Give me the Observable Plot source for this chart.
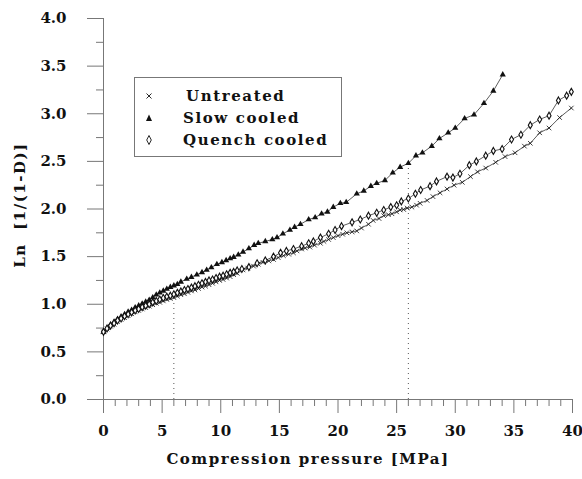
<!DOCTYPE html>
<html>
<head>
<meta charset="utf-8">
<script src="https://cdn.jsdelivr.net/npm/d3@7"></script>
<script src="https://cdn.jsdelivr.net/npm/@observablehq/plot@0.6"></script>
<style>
  html, body { margin: 0; padding: 0; background: #fff; }
  #wrap { position: relative; width: 582px; height: 479px; }
  #wrap svg text { font-family: "DejaVu Serif", serif; font-weight: bold; fill: #111; }
  #wrap svg .title text, #wrap svg text.title { letter-spacing: 1.5px; }
  #legend { position: absolute; left: 134px; top: 77px; width: 206px; height: 78px;
    border: 1px solid #777; background: #fff; font-family: "DejaVu Serif", serif; font-weight: bold;
    font-size: 15px; letter-spacing: 1.6px; color: #111; }
  .row { position: absolute; left: 0; height: 20px; line-height: 20px; white-space: pre; }
  .row svg { position: absolute; left: 7px; top: 4px; }
  .row span { position: absolute; white-space: pre; }
</style>
</head>
<body>
<div id="wrap"></div>
<script>
// ---- data ----
const seriesNames = ["Untreated", "Slow cooled", "Quench cooled"];

const untreatedX = [0,0.3,0.6,0.9,1.2,1.5,1.8,2.1,2.4,2.7,3.0,3.3,3.6,3.9,4.2,4.5,4.8,5.1,5.4,5.7,6.0,6.3,6.6,6.9,7.2,7.5,7.8,8.1,8.4,8.7,9.0,9.3,9.6,9.9,10.2,10.5,10.8,11.1,11.4,11.9,12.3,12.8,13.2,13.6,14.1,14.5,14.9,15.35,15.8,16.2,16.5,16.9,17.2,17.6,18.0,18.5,18.8,19.2,19.6,20.0,20.4,20.75,21.2,21.6,22.0,22.6,23.0,23.5,23.9,24.3,24.6,25.0,25.3,25.6,25.9,26.3,26.7,27.0,27.6,28.1,28.7,29.3,29.9,30.6,31.3,31.9,32.6,33.45,34.25,35.1,35.9,36.4,37.2,38.0,38.9,39.9];
const untreatedY = [0.71,0.74,0.77,0.79,0.82,0.84,0.86,0.88,0.90,0.92,0.935,0.95,0.965,0.98,0.995,1.01,1.02,1.035,1.05,1.06,1.07,1.085,1.10,1.11,1.125,1.14,1.15,1.165,1.18,1.19,1.205,1.22,1.235,1.25,1.26,1.275,1.29,1.31,1.325,1.36,1.38,1.40,1.42,1.44,1.455,1.47,1.49,1.51,1.525,1.54,1.56,1.58,1.59,1.60,1.62,1.64,1.66,1.68,1.70,1.72,1.735,1.75,1.76,1.77,1.80,1.84,1.88,1.90,1.93,1.94,1.95,1.97,1.99,1.995,2.01,2.02,2.04,2.06,2.09,2.13,2.17,2.21,2.25,2.28,2.34,2.39,2.43,2.49,2.55,2.59,2.66,2.69,2.80,2.85,2.96,3.06];

const slowX = [0,0.3,0.6,0.9,1.2,1.5,1.8,2.1,2.4,2.7,3.0,3.3,3.6,3.9,4.2,4.5,4.8,5.1,5.4,5.7,6.0,6.3,6.6,7.1,7.5,7.96,8.4,8.8,9.2,9.67,10.1,10.46,10.8,11.1,11.5,11.9,12.4,12.85,13.2,13.8,14.4,14.8,15.3,15.9,16.3,16.8,17.5,18.05,18.6,19.1,19.6,20.2,20.7,21.6,22.2,22.8,23.3,24.0,24.67,25.3,26.0,26.65,27.2,28.0,28.65,29.4,30.0,30.8,31.6,32.45,33.25,34.05];
const slowY = [0.71,0.75,0.785,0.815,0.845,0.87,0.895,0.92,0.94,0.965,0.985,1.005,1.025,1.045,1.07,1.10,1.12,1.14,1.16,1.18,1.195,1.21,1.235,1.265,1.285,1.31,1.335,1.36,1.385,1.42,1.44,1.46,1.48,1.495,1.52,1.55,1.585,1.62,1.64,1.66,1.68,1.70,1.74,1.78,1.81,1.84,1.89,1.91,1.95,1.97,2.02,2.06,2.07,2.16,2.19,2.24,2.27,2.30,2.38,2.44,2.48,2.56,2.59,2.66,2.74,2.80,2.85,2.95,2.99,3.11,3.24,3.41];

const quenchX = [0,0.3,0.6,0.9,1.2,1.5,1.8,2.1,2.4,2.7,3.0,3.3,3.6,3.9,4.2,4.5,4.8,5.1,5.4,5.7,6.0,6.3,6.6,6.9,7.2,7.5,7.8,8.1,8.4,8.7,9.0,9.3,9.6,9.9,10.2,10.5,10.8,11.1,11.4,11.8,12.4,13.1,13.8,14.5,15.1,15.6,16.2,16.9,17.5,17.9,18.5,19.2,19.75,20.3,21.2,21.9,22.6,23.3,23.9,24.5,25.0,25.4,26.0,26.6,27.05,27.85,28.4,29.3,29.8,30.4,31.2,31.8,32.6,33.25,34.0,34.8,35.6,36.4,37.2,38.0,38.8,39.5,39.9];
const quenchY = [0.71,0.745,0.775,0.80,0.83,0.85,0.875,0.895,0.915,0.935,0.95,0.97,0.985,1.00,1.02,1.035,1.05,1.065,1.08,1.09,1.105,1.12,1.135,1.15,1.16,1.175,1.19,1.205,1.22,1.235,1.25,1.26,1.275,1.29,1.30,1.315,1.33,1.34,1.355,1.37,1.39,1.43,1.46,1.50,1.54,1.56,1.58,1.61,1.64,1.66,1.70,1.74,1.78,1.82,1.86,1.89,1.93,1.96,1.99,2.02,2.04,2.08,2.11,2.16,2.20,2.24,2.29,2.34,2.33,2.37,2.46,2.50,2.56,2.61,2.63,2.73,2.78,2.88,2.94,2.98,3.14,3.19,3.23];

const markerX = [6, 26];
const markerTop = [1.07, 2.48];

const xTicks = [0,5,10,15,20,25,30,35,40];
const xMinorTicks = [1,2,3,4,6,7,8,9,11,12,13,14,16,17,18,19,21,22,23,24,26,27,28,29,31,32,33,34,36,37,38,39];
const yTicks = [0,0.5,1.0,1.5,2.0,2.5,3.0,3.5,4.0];
const yMinorTicks = [0.25,0.75,1.25,1.75,2.25,2.75,3.25,3.75];
const xLabel = "Compression pressure [MPa]";
const yLabel = "Ln\u00a0 [1/(1-D)]";

// ---- build ----
const toRows = (xs, ys) => xs.map((x, i) => ({x, y: ys[i]}));
const untreated = toRows(untreatedX, untreatedY);
const slow = toRows(slowX, slowY);
const quench = toRows(quenchX, quenchY);
const markers = markerX.map((x, i) => ({x, top: markerTop[i]}));

const lineStyle = {x: "x", y: "y", stroke: "#333", strokeWidth: 0.8};

const chart = Plot.plot({
  width: 582, height: 479,
  marginLeft: 103, marginRight: 10, marginTop: 18, marginBottom: 80,
  style: {fontSize: "15px", fontFamily: "DejaVu Serif", background: "white"},
  x: {domain: [0, 40]},
  y: {domain: [0, 4]},
  marks: [
    Plot.ruleX(markers, {x: "x", y1: 0, y2: "top", stroke: "#555", strokeWidth: 1, strokeDasharray: "1,4"}),
    Plot.axisY({ticks: yTicks, tickSize: 16, tickPadding: 21, tickFormat: d3.format(".1f"), label: null, stroke: "#777"}),
    Plot.axisY({ticks: yMinorTicks, tickSize: 7, tickFormat: () => "", label: null, stroke: "#777"}),
    Plot.axisX({ticks: xTicks, tickSize: 14, tickPadding: 12, tickFormat: d3.format("d"), label: null, stroke: "#777"}),
    Plot.axisX({ticks: xMinorTicks, tickSize: 7, tickFormat: () => "", label: null, stroke: "#777"}),
    Plot.ruleX([0], {y1: 0, y2: 4, stroke: "#777"}),
    Plot.ruleY([0], {x1: -0.7, x2: 40, stroke: "#777"}),
    Plot.line(untreated, lineStyle),
    Plot.line(slow, lineStyle),
    Plot.line(quench, lineStyle),
    Plot.dot(untreated, {x: "x", y: "y", symbol: "times", r: 2.2, stroke: "#111", strokeWidth: 0.8}),
    Plot.dot(slow, {x: "x", y: "y", symbol: "triangle", r: 2.3, fill: "#111", stroke: "none"}),
    Plot.dot(quench, {x: "x", y: "y", symbol: "diamond", r: 2.1, fill: "white", stroke: "#111", strokeWidth: 1.1}),
    Plot.text([xLabel], {frameAnchor: "bottom", dx: -30, dy: 64, fontSize: 15, fontWeight: "bold", text: d => d, className: "title"}),
    Plot.text([yLabel], {frameAnchor: "left", textAnchor: "middle", dx: -83, dy: -4, rotate: -90, fontSize: 15, fontWeight: "bold", text: d => d, className: "title"})
  ]
});

const wrap = document.getElementById("wrap");
wrap.appendChild(chart);

// legend
const legend = document.createElement("div");
legend.id = "legend";
const symbolsSvg = [
  '<svg width="14" height="12"><path d="M4.5,3.5L9.5,8.5M9.5,3.5L4.5,8.5" stroke="#111" stroke-width="0.9"/></svg>',
  '<svg width="14" height="12"><path d="M7,2.5L10,9L4,9Z" fill="#111"/></svg>',
  '<svg width="14" height="12"><path d="M7,1.5L9.3,6L7,10.5L4.7,6Z" fill="white" stroke="#111" stroke-width="0.9"/></svg>'
];
const textLeft = [51, 48, 48];
seriesNames.forEach((name, i) => {
  const row = document.createElement("div");
  row.className = "row";
  row.style.top = (8 + i * 22) + "px";
  row.style.width = "200px";
  row.innerHTML = symbolsSvg[i] + '<span style="left:' + textLeft[i] + 'px">' + name + '</span>';
  legend.appendChild(row);
});
wrap.appendChild(legend);
</script>
</body>
</html>
